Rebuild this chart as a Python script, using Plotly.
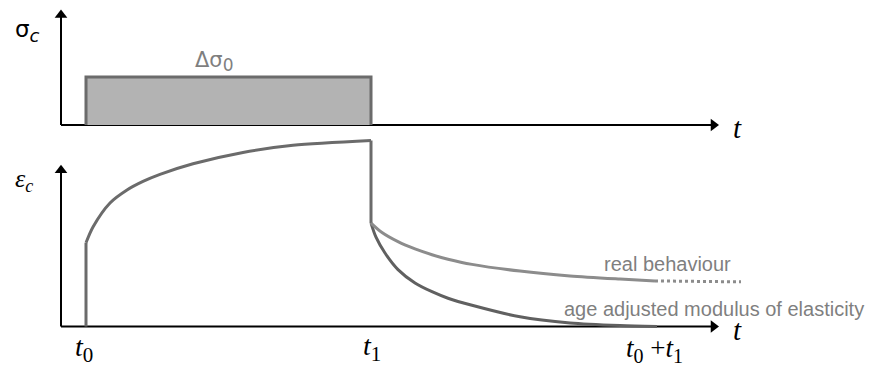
import plotly.graph_objects as go

# schematic time units (arbitrary), origin of both axes at t = 0
T0 = 1.0
T1 = 12.4
T_AXIS_END = 26.1

# stress block (top panel)
stress_t = [T0, T0, T1, T1]
stress_sigma = [0.0, 1.0, 1.0, 0.0]

# creep strain under constant stress (bottom panel)
load_t = [T0, T0]
load_eps = [0.0, 0.45]
creep_t = [1.0, 1.28, 1.96, 2.64, 3.28, 3.96, 5.28, 7.28, 9.28, 12.4]
creep_eps = [0.45, 0.535, 0.664, 0.734, 0.78, 0.818, 0.875, 0.936, 0.974, 1.0]
unload_t = [T1, T1]
unload_eps = [1.0, 0.556]

# recovery after unloading
real_t = [12.4, 12.84, 13.48, 14.16, 14.84, 15.48, 16.44, 18.36, 20.36, 22.36, 23.76]
real_eps = [0.556, 0.505, 0.456, 0.417, 0.386, 0.362, 0.334, 0.298, 0.272, 0.255, 0.245]
real_tail_t = [23.76, 27.2]
real_tail_eps = [0.245, 0.24]

aamm_t = [12.4, 12.6, 12.96, 13.48, 14.16, 14.84, 15.48, 16.44, 18.36, 20.36, 22.36, 23.84]
aamm_eps = [0.556, 0.48, 0.395, 0.306, 0.234, 0.187, 0.152, 0.114, 0.052, 0.019, 0.005, 0.0]

BLACK = "#000000"
DARK = "#6b6b6b"
LIGHT = "#8c8c8c"
TEXT_GREY = "#7f7f7f"

fig = go.Figure()

# axes drawn as arrows
for yax, tip in (("y", 2.29), ("y2", 0.84)):
    fig.add_trace(go.Scatter(x=[0, 0], y=[0, tip], mode="lines",
                             line=dict(color=BLACK, width=2), yaxis=yax))
    fig.add_trace(go.Scatter(x=[0], y=[tip], mode="markers", yaxis=yax,
                             marker=dict(symbol="triangle-up", size=11, color=BLACK)))
    fig.add_trace(go.Scatter(x=[0, T_AXIS_END], y=[0, 0], mode="lines",
                             line=dict(color=BLACK, width=2), yaxis=yax))
    fig.add_trace(go.Scatter(x=[T_AXIS_END], y=[0], mode="markers", yaxis=yax,
                             marker=dict(symbol="triangle-right", size=11, color=BLACK)))

# stress block
fig.add_trace(go.Scatter(x=stress_t, y=stress_sigma, mode="lines", fill="toself",
                         fillcolor="#b3b3b3", line=dict(color=DARK, width=3),
                         yaxis="y"))

# strain curves
smooth = dict(shape="spline", smoothing=0.8)
fig.add_trace(go.Scatter(x=load_t, y=load_eps, mode="lines",
                         line=dict(color=DARK, width=3), yaxis="y2"))
fig.add_trace(go.Scatter(x=creep_t, y=creep_eps, mode="lines",
                         line=dict(color=DARK, width=3, **smooth), yaxis="y2"))
fig.add_trace(go.Scatter(x=unload_t, y=unload_eps, mode="lines",
                         line=dict(color=DARK, width=3), yaxis="y2"))
fig.add_trace(go.Scatter(x=aamm_t, y=aamm_eps, mode="lines",
                         line=dict(color="#606060", width=3, **smooth), yaxis="y2"))
fig.add_trace(go.Scatter(x=real_t, y=real_eps, mode="lines",
                         line=dict(color=LIGHT, width=3, **smooth), yaxis="y2"))
fig.add_trace(go.Scatter(x=real_tail_t, y=real_tail_eps, mode="lines",
                         line=dict(color=LIGHT, width=3, dash="dot"), yaxis="y2"))

serif = "Liberation Serif"
sans = "Liberation Sans"


def label(x, y, text, yref, size, color=BLACK, family=serif):
    fig.add_annotation(x=x, y=y, xref="x", yref=yref, text=text, showarrow=False,
                       font=dict(family=family, size=size, color=color))


def sub(s, size):
    return f"<sub><span style='font-size:{size}px'>{s}</span></sub>"


label(-1.36, 1.96, "σ" + sub("<i>c</i>", 18), "y", 23, family="DejaVu Sans")
label(-1.48, 0.788, "<i>ε</i>" + sub("<i>c</i>", 18), "y2", 26)
label(27.04, -0.06, "<i>t</i>", "y", 29)
label(27.04, -0.019, "<i>t</i>", "y2", 29)
label(6.12, 1.33, "Δσ" + sub("0", 17), "y", 21, TEXT_GREY, "DejaVu Sans")
label(0.92, -0.121, "<i>t</i>" + sub("0", 21), "y2", 28)
label(12.44, -0.116, "<i>t</i>" + sub("1", 21), "y2", 28)
label(23.72, -0.125, "<i>t</i>" + sub("0", 20) + " +<i>t</i>" + sub("1", 20), "y2", 27)
label(24.24, 0.336, "real behaviour", "y2", 20, TEXT_GREY, sans)
label(26.1, 0.094, "age adjusted modulus of elasticity", "y2", 20, TEXT_GREY, sans)

fig.update_layout(
    width=869, height=360,
    margin=dict(l=0, r=0, t=0, b=0),
    plot_bgcolor="white", paper_bgcolor="white",
    showlegend=False,
    xaxis=dict(range=[-2.12, 32.64], visible=False),
    yaxis=dict(range=[-5.0625, 2.4375], visible=False, domain=[0, 1]),
    yaxis2=dict(range=[-0.2231, 1.7124], visible=False, domain=[0, 1],
                overlaying="y"),
)

fig.write_html("out.html")
